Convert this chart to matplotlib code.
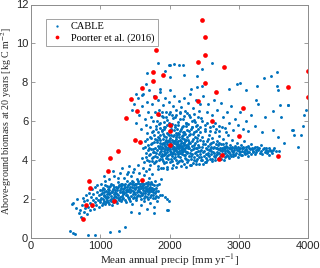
import numpy as np
import matplotlib
matplotlib.use("Agg")
import matplotlib.pyplot as plt

# Poorter et al. (2016) observations: precip [mm/yr], biomass [kg C m-2]
poorter_x = [1807, 1768, 1768, 1604, 1449, 1787, 1526, 1836, 1372, 2468, 2512, 2517,
             2406, 2792, 1903, 4000, 2512, 2671, 3710, 2406, 4000, 3062, 2609, 2004,
             2004, 1503, 1575, 1251, 1135, 1106, 831, 1609, 845, 797, 884, 1203,
             754, 2004, 3010, 2758, 2710, 3570]
poorter_y = [9.64, 8.53, 8.05, 7.69, 7.13, 7.23, 6.51, 6.39, 6.15, 11.21, 10.31, 9.38,
             9.03, 8.80, 8.39, 8.56, 7.95, 7.49, 7.76, 7.03, 7.25, 6.70, 6.00, 5.79,
             5.49, 5.04, 4.94, 4.48, 4.12, 3.44, 2.92, 2.99, 2.58, 1.71, 1.71, 1.88,
             0.99, 4.80, 5.25, 4.26, 4.07, 4.21]

# CABLE simulations (precip, biomass)
cable_low = [
    (585, 1.75), (612, 1.8), (660, 2.0), (645, 1.55), (690, 1.3), (705, 1.45), (720, 1.1),
    (735, 1.7), (748, 2.05), (760, 1.35), (772, 1.9), (785, 1.55), (795, 2.2), (808, 1.25),
    (815, 1.95), (826, 1.6), (838, 2.3), (846, 1.8), (858, 1.45), (862, 2.1), (875, 2.5),
    (884, 1.65), (893, 1.95), (900, 2.25), (912, 1.5), (918, 2.6), (925, 1.85), (936, 2.05),
    (944, 1.7), (952, 2.35), (960, 2.7), (968, 1.95), (975, 1.6), (983, 2.2), (990, 2.45),
    (998, 1.85), (1005, 2.05), (1012, 2.8), (1020, 1.7), (1028, 2.3), (1035, 2.0), (1042, 2.55),
    (1050, 1.9), (1058, 2.15), (1065, 2.95), (1072, 1.75), (1080, 2.4), (1088, 2.05), (1095, 2.25),
    (1102, 2.65), (1110, 1.85), (1118, 2.1), (1125, 2.45), (1132, 3.05), (1140, 1.95), (1148, 2.3),
    (1155, 2.15), (1162, 2.75), (1170, 1.7), (1178, 2.05), (1185, 2.5), (1192, 2.25), (1200, 3.2),
    (1208, 1.95), (1215, 2.35), (1222, 2.6), (1230, 2.1), (1238, 1.8), (1245, 2.45), (1252, 2.9),
    (1260, 2.2), (1268, 2.0), (1275, 2.7), (1282, 2.35), (1290, 3.35), (1298, 1.9), (1305, 2.55),
    (1312, 2.15), (1320, 2.8), (1328, 2.4), (1335, 2.05), (1342, 3.1), (1350, 2.3), (1358, 2.6),
    (1365, 1.85), (1372, 2.45), (1380, 2.95), (1388, 2.2), (1395, 2.7), (1402, 3.4), (1410, 2.0),
    (1418, 2.5), (1425, 2.35), (1432, 2.85), (1440, 2.15), (1448, 3.2), (1455, 1.75), (1462, 2.6),
    (1470, 2.4), (1478, 2.9), (1485, 2.1), (1492, 3.55), (1500, 2.5), (1508, 2.25), (1515, 2.75),
    (1522, 1.95), (1530, 3.05), (1538, 2.45), (1545, 2.6), (1552, 2.2), (1560, 3.35), (1568, 2.8),
    (1575, 2.35), (1582, 1.7), (1590, 2.55), (1598, 3.0), (1605, 2.2), (1612, 2.7), (1620, 2.45),
    (1628, 3.25), (1635, 1.9), (1642, 2.6), (1650, 2.3), (1658, 2.85), (1665, 3.45), (1672, 2.1),
    (1680, 2.5), (1688, 2.75), (1695, 2.0), (1702, 3.1), (1710, 2.35), (1718, 2.6), (1725, 1.8),
    (1732, 2.9), (1740, 2.2), (1748, 3.3), (1755, 2.45), (1762, 2.05), (1770, 2.7), (1778, 1.6),
    (1785, 2.3), (1792, 2.95), (1800, 2.15), (1810, 2.55), (1822, 1.9), (1835, 2.4), (1850, 2.8),
    (1865, 2.2), (1880, 3.05),
    (1015, 2.25), (1047, 2.2), (1073, 2.15), (1106, 2.35), (1133, 2.25), (1167, 2.4), (1196, 2.1),
    (1227, 2.3), (1253, 2.05), (1287, 2.45), (1314, 2.35), (1347, 2.55), (1373, 2.2), (1407, 2.4),
    (1433, 2.6), (1466, 2.25), (1494, 2.7), (1527, 2.35), (1553, 2.5), (1587, 2.3), (1613, 2.55),
    (1646, 2.4), (1674, 2.65), (1707, 2.45), (1733, 2.5), (1766, 2.35),
    (1061, 2.5), (1091, 1.95), (1121, 2.6), (1152, 1.9), (1181, 2.7), (1211, 2.15), (1242, 2.55),
    (1271, 1.95), (1302, 2.65), (1331, 2.25), (1362, 2.75), (1391, 2.45), (1421, 2.05), (1452, 2.8),
    (1481, 2.55), (1512, 2.05), (1541, 2.85), (1572, 2.15), (1601, 2.65), (1632, 2.05), (1661, 2.5),
    (1692, 2.25), (1721, 2.8), (1752, 2.55),
    (1003, 1.95), (1019, 2.45), (1037, 1.8), (1054, 2.35), (1069, 2.7), (1084, 1.85), (1099, 2.1),
    (1114, 2.5), (1128, 1.75), (1143, 2.65), (1158, 2.0), (1173, 2.35), (1188, 1.85), (1203, 2.6),
    (1218, 2.45), (1233, 1.9), (1248, 2.25), (1263, 2.6), (1278, 2.1), (1293, 2.8), (1308, 2.0),
    (1323, 2.5), (1338, 2.7), (1353, 1.95), (1368, 2.35), (1383, 2.6), (1398, 2.1), (1413, 2.75),
    (1428, 1.9), (1443, 2.45), (1458, 2.95), (1473, 2.05), (1488, 2.35), (1503, 2.8), (1518, 2.6),
    (1533, 2.15), (1548, 2.95), (1563, 2.4), (1578, 2.65), (1593, 2.0), (1608, 2.85), (1623, 2.3),
    (1638, 2.75), (1653, 2.15), (1668, 2.4), (1683, 2.9), (1698, 2.55), (1713, 2.1), (1728, 2.4),
    (1743, 2.75), (1758, 2.2), (1773, 2.5), (1788, 2.05), (1803, 2.4), (1818, 2.7), (1833, 2.1),
    (1050, 3.2), (1180, 3.45), (1310, 3.6), (1420, 3.7), (1540, 3.75), (1620, 3.6), (1700, 3.55),
    (1260, 3.1), (1380, 3.3), (1470, 3.4),
]

cable_outliers = [
    (565, 0.37), (600, 0.25), (638, 0.22), (830, 0.17), (928, 0.15), (1145, 0.3), (1265, 0.37),
    (1360, 0.58), (1773, 1.27), (1966, 1.42), (1894, 2.2), (1942, 2.12), (1966, 2.0),
    (1990, 1.91), (1976, 1.44), (1560, 1.3), (1450, 1.35), (1680, 1.5),
]

cable_core = [
    (1600, 4.1), (1615, 4.6), (1630, 3.9), (1645, 5.0), (1655, 4.35), (1668, 5.4), (1680, 4.0),
    (1692, 4.8), (1705, 4.25), (1712, 5.7), (1720, 3.75), (1728, 4.55), (1736, 5.15), (1744, 4.1),
    (1752, 4.9), (1760, 6.0), (1768, 4.4), (1775, 3.85), (1782, 5.3), (1790, 4.65), (1797, 4.2),
    (1804, 5.6), (1810, 3.95), (1817, 4.95), (1824, 4.5), (1830, 5.2), (1836, 3.7), (1843, 4.3),
    (1850, 5.85), (1856, 4.75), (1862, 4.05), (1868, 5.05), (1874, 4.45), (1880, 3.6), (1886, 5.5),
    (1892, 4.85), (1898, 4.2), (1904, 6.2), (1910, 4.6), (1916, 3.85), (1922, 5.25), (1928, 4.35),
    (1934, 4.95), (1940, 5.7), (1946, 4.1), (1952, 4.7), (1958, 3.65), (1964, 5.4), (1970, 4.5),
    (1976, 5.0), (1982, 4.25), (1988, 5.9), (1994, 4.8), (2000, 3.9), (2006, 5.15), (2012, 4.55),
    (2018, 4.05), (2024, 5.55), (2030, 4.75), (2036, 4.3), (2042, 6.3), (2048, 4.95), (2054, 3.75),
    (2060, 5.3), (2066, 4.45), (2072, 4.9), (2078, 5.8), (2084, 4.15), (2090, 4.65), (2096, 5.1),
    (2102, 3.85), (2108, 4.4), (2114, 5.6), (2120, 4.85), (2126, 4.2), (2132, 5.35), (2138, 4.6),
    (2144, 3.95), (2150, 5.05), (2156, 6.1), (2162, 4.5), (2168, 4.0), (2174, 5.25), (2180, 4.75),
    (2186, 4.3), (2192, 5.75), (2198, 4.9), (2204, 3.8), (2210, 5.45), (2216, 4.55), (2222, 4.1),
    (2228, 5.0), (2234, 4.7), (2240, 5.9), (2246, 4.35), (2252, 3.9), (2258, 5.2), (2264, 4.6),
    (2270, 4.85), (2276, 5.5), (2282, 4.2), (2288, 4.95), (2294, 3.75), (2300, 5.35), (2306, 4.5),
    (2312, 4.05), (2318, 5.7), (2324, 4.75), (2330, 4.3), (2336, 5.1), (2342, 3.85), (2348, 4.6),
    (2354, 5.45), (2360, 4.15), (2366, 4.9), (2372, 5.95), (2378, 4.4), (2384, 3.95), (2390, 5.15),
    (2396, 4.65), (2402, 4.25), (2410, 5.6), (2418, 4.8), (2426, 3.8), (2434, 5.05), (2442, 4.45),
    (2450, 4.0),
    (1855, 4.6), (1870, 4.9), (1885, 4.3), (1900, 5.1), (1915, 4.45), (1930, 4.75), (1945, 5.2),
    (1960, 4.4), (1975, 4.65), (1990, 5.3), (2005, 4.45), (2020, 4.85), (2035, 5.05), (2050, 4.55),
    (2065, 4.7), (2080, 5.0), (2095, 4.5), (2110, 4.95), (2125, 4.6), (2140, 5.2), (2155, 4.35),
    (2170, 4.7), (2185, 5.15), (2200, 4.45), (2215, 4.8), (2230, 4.25), (2245, 5.05),
    (1865, 5.3), (1880, 4.55), (1895, 4.05), (1910, 5.35), (1925, 4.85), (1940, 4.3), (1955, 5.05),
    (1970, 4.95), (1985, 4.55), (2000, 4.7), (2015, 5.3), (2030, 4.2), (2045, 4.65), (2060, 5.0),
    (2075, 4.3), (2090, 5.2), (2105, 4.75), (2120, 5.4), (2135, 4.45), (2150, 4.8), (2165, 5.0),
    (2180, 4.4), (2195, 5.3), (2210, 4.9), (2225, 4.6), (2240, 4.4), (2260, 4.75),
    (1840, 3.55), (1900, 3.6), (1960, 3.55), (2030, 3.6), (2100, 3.65), (2170, 3.7), (2240, 3.65),
    (2310, 3.75), (2380, 3.8),
    (1805, 4.35), (1813, 5.05), (1821, 4.15), (1829, 4.75), (1837, 5.45), (1845, 4.0), (1853, 5.15),
    (1861, 4.4), (1869, 5.65), (1877, 4.2), (1889, 4.7), (1897, 5.55), (1907, 3.95), (1913, 4.9),
    (1919, 4.25), (1927, 5.6), (1937, 4.55), (1943, 3.9), (1949, 5.0), (1957, 4.85), (1963, 4.2),
    (1973, 5.35), (1979, 4.05), (1987, 4.7), (1993, 5.05), (2003, 4.3), (2009, 4.95), (2017, 5.6),
    (2023, 4.4), (2033, 3.95), (2039, 4.8), (2047, 5.25), (2053, 4.35), (2063, 5.55), (2069, 4.1),
    (2077, 4.55), (2087, 5.4), (2093, 4.0), (2099, 4.85), (2107, 5.3), (2117, 4.3), (2123, 5.0),
    (2129, 3.9), (2137, 4.75), (2147, 5.5), (2153, 4.15), (2159, 4.9), (2167, 5.6), (2177, 4.55),
    (2183, 3.95), (2189, 4.65), (2197, 5.45), (2207, 4.25), (2213, 5.1), (2219, 4.45), (2227, 5.35),
    (2237, 4.05), (2243, 4.8), (2249, 5.55), (2257, 4.4), (2267, 5.05), (2273, 4.0), (2279, 4.65),
    (2287, 5.3), (2297, 4.35), (2303, 4.9), (2309, 5.6), (2317, 4.2), (2327, 5.0), (2333, 4.55),
    (2339, 5.35), (2347, 4.0), (2357, 4.8), (2363, 5.2), (2369, 4.35), (2377, 5.5), (2387, 4.6),
    (2393, 4.05), (2399, 5.0), (2407, 4.45), (2417, 5.3), (2423, 4.15), (2431, 4.7), (2439, 5.45),
    (2447, 4.3),
    (1652, 4.7), (1662, 4.15), (1673, 5.1), (1685, 4.5), (1698, 3.95), (1708, 4.65), (1716, 5.2),
    (1724, 4.3), (1733, 4.85), (1741, 3.95), (1749, 5.45), (1757, 4.55), (1764, 4.15), (1772, 4.95),
    (1779, 4.4), (1787, 5.1), (1794, 3.9),
]

cable_band = [
    (2460, 4.5), (2470, 5.2), (2480, 3.8), (2490, 4.85), (2500, 4.2), (2510, 5.5), (2520, 4.6),
    (2530, 3.9), (2540, 5.0), (2550, 4.35), (2560, 4.75), (2570, 5.3), (2580, 4.05), (2590, 4.55),
    (2600, 4.9), (2610, 3.95), (2620, 5.15), (2630, 4.4), (2640, 4.7), (2650, 5.45), (2660, 4.15),
    (2670, 4.6), (2680, 5.0), (2690, 4.3), (2700, 4.8), (2710, 4.1), (2720, 5.25), (2730, 4.5),
    (2740, 4.85), (2750, 4.25), (2760, 4.65), (2770, 5.1), (2780, 4.0), (2790, 4.55), (2800, 4.35),
    (2810, 4.9), (2820, 4.2), (2830, 4.7), (2840, 5.3), (2850, 4.45), (2860, 4.1), (2870, 4.8),
    (2880, 4.3), (2890, 4.6), (2900, 5.05), (2915, 4.2), (2930, 4.5), (2945, 4.75), (2960, 4.35),
    (2975, 4.9), (2990, 4.15), (3005, 4.55), (3020, 4.4), (3035, 4.8), (3050, 4.25), (3065, 4.6),
    (3080, 5.0), (3095, 4.35), (3110, 4.7), (3125, 4.45), (3140, 4.2), (3160, 4.55), (3180, 4.85),
    (3200, 4.4), (3220, 4.6), (3240, 4.3), (3260, 4.7), (3280, 4.5), (3300, 4.35), (3325, 4.8),
    (3350, 4.55), (3375, 4.4), (3400, 4.65), (3425, 4.45), (3450, 4.5), (3480, 4.35), (3510, 4.6),
    (3540, 4.45),
    (2482, 4.4), (2522, 4.1), (2562, 4.25), (2603, 4.45), (2641, 4.2), (2683, 4.4), (2722, 4.35),
    (2763, 4.5), (2801, 4.6), (2843, 4.4), (2882, 4.55), (2921, 4.4), (2962, 4.6), (3002, 4.45),
    (3041, 4.6), (3092, 4.5), (3141, 4.6), (3192, 4.55), (3243, 4.5),
    (2455, 4.15), (2466, 4.7), (2475, 4.0), (2486, 5.0), (2495, 4.45), (2506, 3.9), (2515, 4.85),
    (2526, 4.3), (2535, 4.55), (2546, 4.0), (2555, 5.1), (2566, 4.5), (2575, 4.2), (2586, 4.85),
    (2595, 4.3), (2606, 4.7), (2615, 4.05), (2626, 4.6), (2635, 4.95), (2646, 4.35), (2655, 4.0),
    (2666, 4.85), (2675, 4.25), (2686, 4.6), (2695, 4.05), (2706, 4.55), (2715, 4.9), (2726, 4.2),
    (2735, 4.65), (2746, 4.05), (2755, 4.45), (2766, 4.85), (2775, 4.3), (2786, 4.7), (2795, 4.15),
    (2806, 4.45), (2815, 4.75), (2826, 4.25), (2835, 4.5), (2846, 4.2), (2855, 4.65), (2866, 4.4),
    (2876, 4.6), (2886, 4.2), (2896, 4.45), (2908, 4.7), (2924, 4.3), (2938, 4.6), (2952, 4.25),
    (2968, 4.5), (2983, 4.7), (2997, 4.3), (3012, 4.6), (3028, 4.25), (3043, 4.45), (3058, 4.7),
    (3072, 4.4), (3088, 4.3), (3104, 4.55), (3118, 4.35), (3133, 4.75), (3150, 4.4), (3170, 4.3),
    (3188, 4.65), (3210, 4.45), (3230, 4.7), (3252, 4.4), (3272, 4.55), (3290, 4.6), (3315, 4.45),
    (3340, 4.3), (3365, 4.6), (3390, 4.5), (3415, 4.35), (3440, 4.6), (3465, 4.45), (3500, 4.5),
]

cable_mid = [
    (1460, 6.6), (1490, 6.9), (1520, 5.9), (1540, 7.2), (1560, 6.3), (1585, 5.6), (1600, 6.8),
    (1620, 7.4), (1640, 6.1), (1660, 5.8), (1675, 7.0), (1690, 6.45), (1710, 7.6), (1730, 6.2),
    (1745, 6.9), (1765, 5.5), (1780, 7.3), (1795, 6.5), (1815, 6.0), (1830, 7.1), (1850, 6.6),
    (1870, 7.5), (1885, 6.25), (1905, 6.85), (1920, 5.95), (1935, 7.2), (1955, 6.5), (1970, 6.05),
    (1990, 7.0), (2010, 6.45), (2030, 5.85), (2045, 6.8), (2065, 7.3), (2080, 6.2), (2100, 6.6),
    (2120, 5.95), (2135, 7.05), (2150, 6.4), (2170, 6.75), (2190, 6.1), (2210, 7.2), (2225, 6.55),
    (2245, 5.9), (2260, 6.95), (2280, 6.3), (2300, 7.4), (2320, 6.0), (2340, 6.7), (2360, 6.35),
    (2380, 7.1), (2400, 5.8), (2420, 6.55), (2440, 6.9), (2460, 6.15), (2490, 7.3), (2510, 5.8),
    (2535, 6.5), (2560, 6.9), (2590, 5.7), (2610, 6.3), (2640, 7.1), (2660, 5.9), (2690, 6.6),
    (2720, 5.75), (2745, 6.95), (2770, 6.2), (2800, 5.65), (2830, 6.45), (2860, 5.9), (2890, 6.8),
    (2920, 5.55), (2950, 6.1), (2985, 5.8), (3020, 6.5), (3060, 5.6), (3100, 6.0), (3140, 5.5),
    (3180, 6.3), (3230, 5.75), (3280, 6.9), (3330, 5.45), (3380, 6.2),
    (1812, 5.75), (1842, 6.3), (1866, 5.9), (1893, 6.45), (1918, 5.7), (1947, 6.2), (1968, 5.8),
    (1996, 6.35), (2022, 5.75), (2052, 6.15), (2074, 5.7), (2098, 6.3), (2128, 5.8), (2158, 6.5),
    (2178, 5.7), (2204, 6.25), (2232, 5.75), (2252, 6.4), (2274, 5.85), (2296, 6.2), (2324, 5.7),
    (2352, 6.05), (2384, 5.75), (2412, 6.2), (2444, 5.7), (2476, 6.0), (2506, 5.6), (2548, 5.9),
    (2578, 5.5), (2622, 5.75), (2668, 5.6), (2708, 5.5), (2758, 5.7), (2812, 5.45),
]

cable_sparse = [
    (1676, 8.46), (1836, 9.01), (1932, 8.58), (1990, 8.9), (2004, 8.9), (2068, 8.92), (2140, 8.9),
    (2198, 8.9), (2207, 8.36), (2014, 8.27), (2304, 7.68), (2401, 7.76), (2473, 7.8), (2474, 8.7),
    (2391, 8.3), (2619, 8.99), (1657, 7.93), (1517, 7.42), (1604, 7.33), (2004, 7.59), (1870, 7.68),
    (3464, 8.34), (3546, 8.53), (3358, 8.24), (2981, 7.91), (3014, 7.98), (2860, 7.68), (3101, 7.63),
    (3270, 7.79), (3546, 7.81), (3560, 7.59), (3246, 7.08), (3705, 6.82), (3599, 6.84), (3715, 6.84),
    (3488, 6.51), (3609, 6.22), (3946, 6.31), (3932, 5.74), (3778, 5.57), (3971, 6.56), (3488, 5.54),
    (3764, 5.57), (3793, 5.28), (3899, 5.28), (3560, 5.2), (3575, 4.46), (3439, 4.26), (3650, 4.9),
    (3850, 4.7),
]

cable = np.array(cable_low + cable_outliers + cable_core + cable_band + cable_mid + cable_sparse)

plt.rcParams['mathtext.fontset'] = 'stix'
serif = 'Liberation Serif'
sans = 'Liberation Sans'
frame = '#8c8c8c'

fig = plt.figure(figsize=(3.2, 2.68), dpi=100)
ax = fig.add_axes([31 / 320, 30 / 268, 277 / 320, 233.5 / 268])

ax.plot(cable[:, 0], cable[:, 1], 'o', color='#0072BD', ms=2.1, mew=0,
        linestyle='none', label='CABLE')
ax.plot(poorter_x, poorter_y, 'o', color='#FF0000', ms=3.4, mew=0,
        linestyle='none', label='Poorter et al. (2016)')

ax.set_xlim(0, 4000)
ax.set_ylim(0, 12)
ax.set_xticks([0, 1000, 2000, 3000, 4000])
ax.set_yticks([0, 2, 4, 6, 8, 10, 12])
ax.tick_params(direction='in', length=3, width=0.6, color=frame, top=True, right=True,
               labelsize=8, labelcolor='#262626', pad=2)
for lab in ax.get_xticklabels() + ax.get_yticklabels():
    lab.set_family(sans)
for sp in ax.spines.values():
    sp.set_color(frame)
    sp.set_linewidth(0.7)

ax.set_xlabel('Mean annual precip [mm yr$^{-1}$]', family=serif, fontsize=8,
              color='#262626', labelpad=1)
ax.set_ylabel('Above-ground biomass at 20 years [kg C m$^{-2}$]', family=serif,
              fontsize=7.2, color='#262626', labelpad=1.5)

leg = ax.legend(loc='upper left', bbox_to_anchor=(0.035, 0.96), prop={'family': serif, 'size': 7.5},
                frameon=True, fancybox=False, edgecolor=frame, borderpad=0.3,
                handletextpad=0.6, handlelength=1.5, labelspacing=0.2, markerscale=0.8)
leg.get_frame().set_linewidth(0.7)

fig.savefig('out.png', dpi=100)
